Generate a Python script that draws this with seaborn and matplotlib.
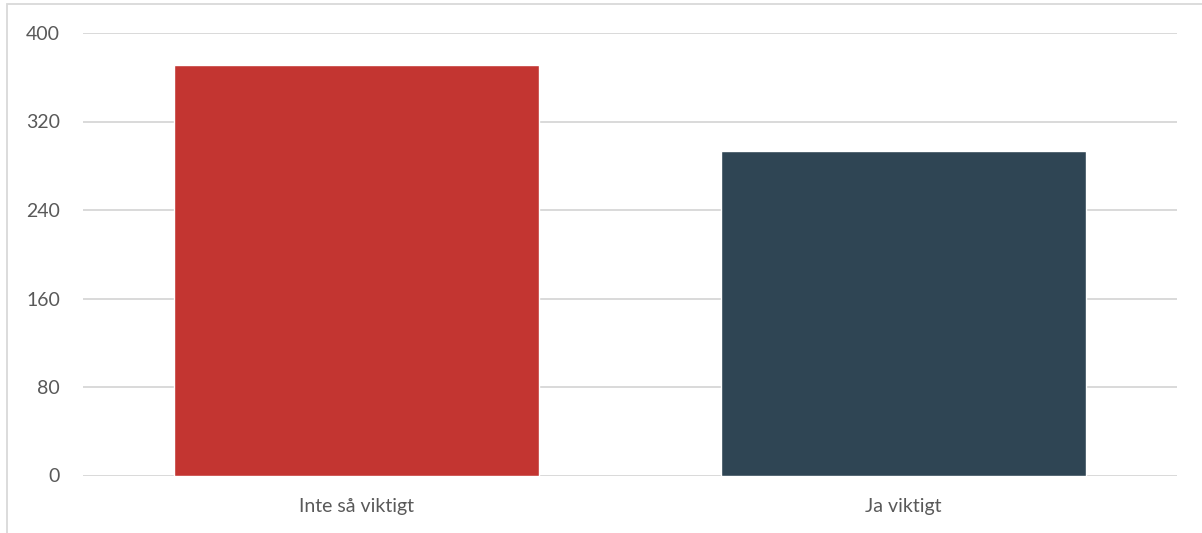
import pandas as pd
import matplotlib.pyplot as plt
import seaborn as sns
from matplotlib.patches import Rectangle

# Data
categories = ["Inte så viktigt", "Ja viktigt"]
values = [371, 293]
colors = ["#C33531", "#2F4554"]
yticks = [0, 80, 160, 240, 320, 400]

df = pd.DataFrame({"kategori": categories, "antal": values})

sns.set_theme(style="white")
plt.rcParams["font.family"] = ["Lato", "DejaVu Sans"]

fig = plt.figure(figsize=(12.02, 5.33), dpi=100)
ax = fig.add_axes([83 / 1202, (533 - 475.5) / 533, (1177 - 83) / 1202, (475.5 - 33) / 533])

sns.barplot(data=df, x="kategori", y="antal", hue="kategori", palette=colors,
            width=0.667, legend=False, ax=ax, saturation=1)

ax.set_ylim(0, 400)
ax.set_xlim(-0.5, 1.5)
ax.set_yticks(yticks)
ax.yaxis.grid(True, color="#D9D9D9", linewidth=1.4)
ax.set_axisbelow(True)
for s in ax.spines.values():
    s.set_visible(False)
ax.set_xlabel("")
ax.set_ylabel("")
ax.tick_params(axis="y", length=0, pad=16.5, labelsize=14, labelcolor="#595959")
ax.tick_params(axis="x", length=0, pad=16, labelsize=14, labelcolor="#595959")

# light frame around the chart area
fig.patches.append(Rectangle((6.5 / 1202, -0.1), 1.2, 1.1 - 4.5 / 533,
                             transform=fig.transFigure, fill=False,
                             edgecolor="#D9D9D9", linewidth=1.3))

plt.savefig("out.png", dpi=100)
